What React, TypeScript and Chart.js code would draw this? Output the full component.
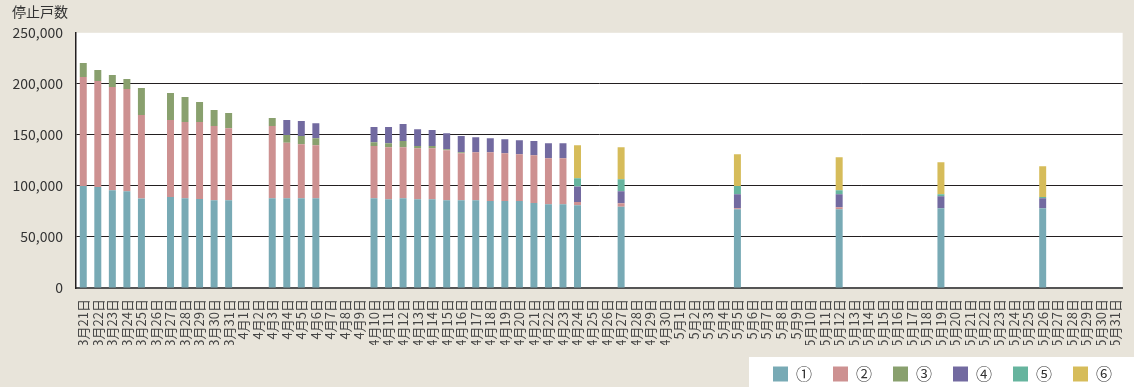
import { useEffect, useRef } from "react";
import { Chart, registerables } from "chart.js";

Chart.register(...registerables);

const FONT = "'Noto Sans CJK JP', 'Noto Sans', sans-serif";
const BG = "#e8e4da";

// All categories on the x axis (3/21 – 5/31)
const categories = [
  "3月21日", "3月22日", "3月23日", "3月24日", "3月25日", "3月26日", "3月27日", "3月28日", "3月29日", "3月30日", "3月31日",
  "4月1日", "4月2日", "4月3日", "4月4日", "4月5日", "4月6日", "4月7日", "4月8日", "4月9日", "4月10日",
  "4月11日", "4月12日", "4月13日", "4月14日", "4月15日", "4月16日", "4月17日", "4月18日", "4月19日", "4月20日",
  "4月21日", "4月22日", "4月23日", "4月24日", "4月25日", "4月26日", "4月27日", "4月28日", "4月29日", "4月30日",
  "5月1日", "5月2日", "5月3日", "5月4日", "5月5日", "5月6日", "5月7日", "5月8日", "5月9日", "5月10日",
  "5月11日", "5月12日", "5月13日", "5月14日", "5月15日", "5月16日", "5月17日", "5月18日", "5月19日", "5月20日",
  "5月21日", "5月22日", "5月23日", "5月24日", "5月25日", "5月26日", "5月27日", "5月28日", "5月29日", "5月30日", "5月31日",
];

// Dates that have data
const reportDates = [
  "3月21日", "3月22日", "3月23日", "3月24日", "3月25日",
  "3月27日", "3月28日", "3月29日", "3月30日", "3月31日",
  "4月3日", "4月4日", "4月5日", "4月6日",
  "4月10日", "4月11日", "4月12日", "4月13日", "4月14日", "4月15日", "4月16日", "4月17日",
  "4月18日", "4月19日", "4月20日", "4月21日", "4月22日", "4月23日", "4月24日",
  "4月27日", "5月5日", "5月12日", "5月19日", "5月26日",
];

const series1 = [
  100000, 99000, 95700, 94800, 87600,
  89200, 87900, 87200, 85900, 85900,
  87900, 87900, 87900, 87900,
  87900, 86900, 87900, 86900, 86900, 85900, 85900, 85900,
  85200, 85200, 85200, 83300, 82000, 82000, 81000,
  79700, 77100, 77100, 78100, 78100,
];
const series2 = [
  106700, 103800, 101200, 100100, 81800,
  75300, 74600, 75300, 72700, 70700,
  70700, 54300, 53000, 52000,
  51100, 51100, 50100, 50100, 50100, 49100, 46100, 47100,
  47800, 46800, 45900, 46800, 45200, 45200, 3300,
  3300, 1000, 1900, 0, 0,
];
const series3 = [
  13800, 10800, 11800, 9900, 26500,
  26500, 24600, 19700, 15700, 14800,
  7900, 7800, 7900, 6900,
  3900, 3900, 5900, 2000, 2000, 1000, 1000, 0,
  0, 0, 0, 0, 0, 0, 0,
  0, 0, 0, 0, 0,
];
const series4 = [
  0, 0, 0, 0, 0,
  0, 0, 0, 0, 0,
  0, 14500, 14700, 14700,
  14700, 15700, 16700, 16600, 15700, 15700, 15800, 14800,
  13800, 13800, 13700, 13800, 14700, 14700, 15100,
  11800, 13700, 12800, 11800, 9800,
];
const series5 = [
  0, 0, 0, 0, 0,
  0, 0, 0, 0, 0,
  0, 0, 0, 0,
  0, 0, 0, 0, 0, 0, 0, 0,
  0, 0, 0, 0, 0, 0, 8100,
  11700, 8200, 3900, 1900, 1300,
];
const series6 = [
  0, 0, 0, 0, 0,
  0, 0, 0, 0, 0,
  0, 0, 0, 0,
  0, 0, 0, 0, 0, 0, 0, 0,
  0, 0, 0, 0, 0, 0, 32400,
  31400, 31100, 32500, 31400, 30100,
];

const seriesNames = ["①", "②", "③", "④", "⑤", "⑥"];
const seriesColors = ["#78aab5", "#cd9191", "#89a06e", "#726aa0", "#66b49e", "#d6bc5a"];
const seriesValues = [series1, series2, series3, series4, series5, series6];

const yTicks = [0, 50000, 100000, 150000, 200000, 250000];

const bgPlugin = {
  id: "bgPlugin",
  afterLayout(chart: any) {
    if (chart.legend) {
      chart.legend.left += 3;
      chart.legend.right += 3;
    }
  },
  beforeDraw(chart: any) {
    const { ctx, chartArea, width, height } = chart;
    ctx.save();
    ctx.fillStyle = BG;
    ctx.fillRect(0, 0, width, height);
    ctx.fillStyle = "#ffffff";
    ctx.fillRect(chartArea.left, chartArea.top, chartArea.right - chartArea.left, chartArea.bottom - chartArea.top);
    const hb = chart.legend && chart.legend.legendHitBoxes;
    if (hb && hb.length) {
      const left = hb[0].left - 24;
      const top = hb[0].top - 9;
      ctx.fillRect(left, top, width - left, height - top);
    }
    ctx.restore();
  },
};

export default function App() {
  const ref = useRef<HTMLCanvasElement>(null);
  useEffect(() => {
    document.body.style.margin = "0";
    document.body.style.background = BG;
    const chart = new Chart(ref.current as HTMLCanvasElement, {
      type: "bar",
      data: {
        labels: categories,
        datasets: seriesNames.map((name, i) => ({
          label: name,
          data: reportDates.map((d, j) => ({ x: d, y: seriesValues[i][j] })),
          backgroundColor: seriesColors[i],
          borderWidth: 0,
          barPercentage: 0.48,
          categoryPercentage: 1,
        })),
      },
      options: {
        animation: false,
        responsive: false,
        layout: { padding: { left: 12, right: 4, top: 0, bottom: 0 } },
        plugins: {
          title: {
            display: true,
            text: "停止戸数",
            align: "start",
            color: "#333333",
            font: { family: FONT, size: 14, weight: "normal" },
            padding: { top: 3, bottom: 13 },
          },
          legend: {
            position: "bottom",
            align: "end",
            maxHeight: 42,
            labels: {
              boxWidth: 15,
              boxHeight: 15,
              padding: 21,
              color: "#333333",
              font: { family: FONT, size: 16 },
            },
          },
          tooltip: { enabled: false },
        },
        scales: {
          x: {
            stacked: true,
            grid: { display: false },
            border: { color: "#555555", width: 2 },
            ticks: {
              autoSkip: false,
              maxRotation: 90,
              minRotation: 90,
              padding: 3,
              color: "#444444",
              font: { family: FONT, size: 13 },
            },
            afterFit: (s: any) => {
              s.height = 57;
            },
          },
          y: {
            stacked: true,
            min: 0,
            max: 250000,
            afterBuildTicks: (s: any) => {
              s.ticks = yTicks.map((v) => ({ value: v }));
            },
            ticks: {
              padding: 13,
              color: "#333333",
              font: { family: FONT, size: 14 },
              callback: (v: any) => Number(v).toLocaleString("en-US"),
            },
            grid: {
              drawTicks: false,
              color: (c: any) => (c.tick && (c.tick.value === 0 || c.tick.value === 250000) ? "rgba(0,0,0,0)" : "#231f20"),
            },
            border: { color: "#231f20", width: 1.5 },
            afterFit: (s: any) => {
              s.width = 64;
            },
          },
        },
      } as any,
      plugins: [bgPlugin],
    });
    return () => chart.destroy();
  }, []);
  return <canvas ref={ref} width={1134} height={387} style={{ display: "block" }} />;
}
